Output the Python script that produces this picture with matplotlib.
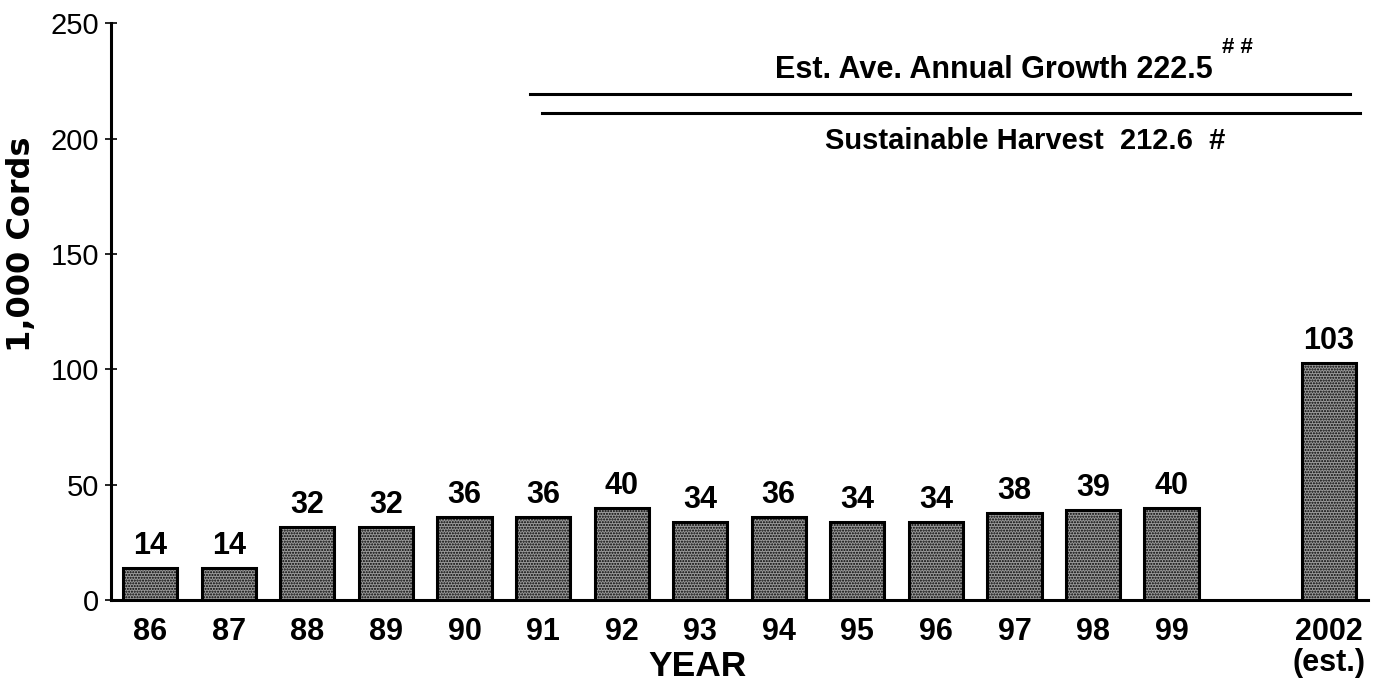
import matplotlib
matplotlib.use("Agg")
import matplotlib.pyplot as plt

plt.rcParams['font.family'] = ['Liberation Sans', 'DejaVu Sans']
plt.rcParams['hatch.color'] = '#3a3a3a'

years = ["86", "87", "88", "89", "90", "91", "92", "93", "94", "95", "96", "97", "98", "99", "2002\n(est.)"]
cords = [14, 14, 32, 32, 36, 36, 40, 34, 36, 34, 34, 38, 39, 40, 103]
positions = list(range(14)) + [15]

growth_label = "Est. Ave. Annual Growth 222.5"
harvest_label = "Sustainable Harvest  212.6  #"
growth_line = 219.3
harvest_line = 211.0

fig = plt.figure(figsize=(13.8, 6.85), dpi=100)
ax = fig.add_axes([0.0804, 0.1234, 0.9109, 0.843])

bars = ax.bar(positions, cords, width=0.69, color="#9a9a9a", edgecolor="black",
              linewidth=2.2, hatch="......", zorder=2)

for x, v in zip(positions, cords):
    ax.annotate(str(v), (x, v), xytext=(0, 5), textcoords="offset points",
                ha="center", va="bottom", fontsize=22, fontweight="bold")

ax.set_xlim(-0.5, 15.5)
ax.set_ylim(0, 250)
ax.set_yticks([0, 50, 100, 150, 200, 250])
ax.set_xticks(positions)
ax.set_xticklabels(years, fontsize=22, fontweight="bold", linespacing=1.05)
ax.tick_params(axis="x", length=0, pad=12)
ax.tick_params(axis="y", labelsize=21, direction="inout", length=9, width=1.2, pad=4)

for s in ["top", "right"]:
    ax.spines[s].set_visible(False)
ax.spines["left"].set_linewidth(2.2)
ax.spines["bottom"].set_linewidth(2.2)

# reference lines
ax.plot([4.83, 15.27], [growth_line, growth_line], color="black", lw=2.2, clip_on=False)
ax.plot([4.99, 15.4], [harvest_line, harvest_line], color="black", lw=2.2, clip_on=False)

ax.text(13.52, 229.7, growth_label, ha="right", va="center", fontsize=22,
        fontweight="bold")
ax.text(13.64, 239.5, "# #", ha="left", va="center", fontsize=16,
        fontweight="bold")
ax.text(13.68, 199, harvest_label, ha="right", va="center", fontsize=21,
        fontweight="bold")

fig.text(22 / 1380, 1 - 244 / 685, "1,000 Cords", rotation=90, ha="center",
         va="center", fontsize=23, fontweight="bold", family=["DejaVu Sans"])
fig.text(698 / 1380, 1 - 666 / 685, "YEAR", ha="center", va="center",
         fontsize=25.5, fontweight="bold")

fig.savefig("out.png", dpi=100)
